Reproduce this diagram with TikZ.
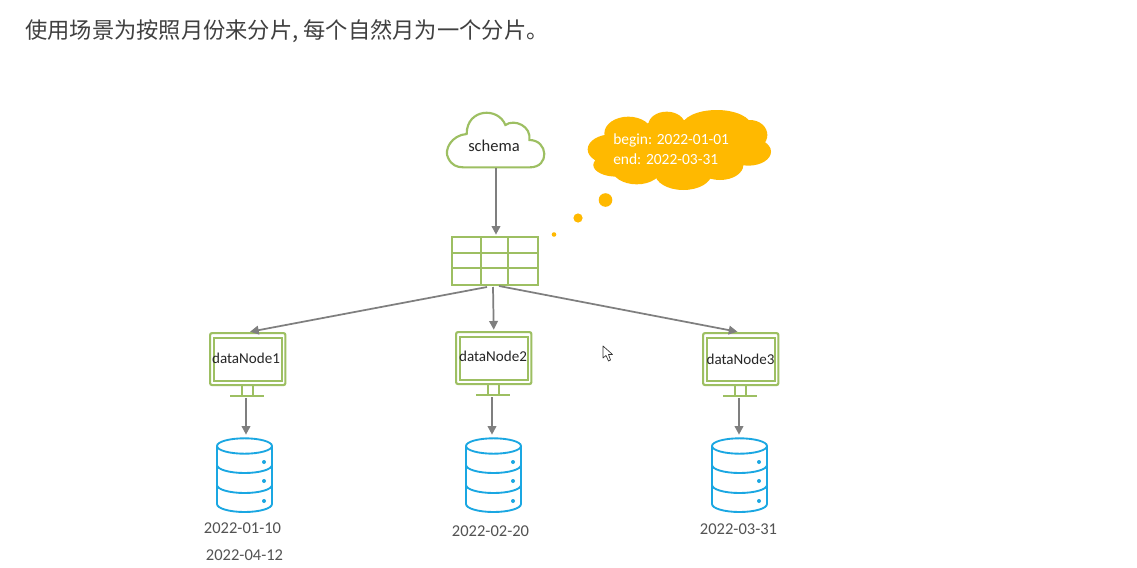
\documentclass[tikz,border=0pt]{standalone}
\usepackage{fontspec}
\setmainfont{Carlito}
\newfontfamily\cjk{Noto Sans CJK SC}
\usetikzlibrary{arrows.meta,calc}
\definecolor{lineg}{HTML}{7F7F7F}
\definecolor{leaf}{HTML}{9DBF62}
\definecolor{sky}{HTML}{1AA7E2}
\definecolor{sun}{HTML}{FFB900}
\definecolor{ink}{HTML}{404040}
\tikzset{
  conn/.style={draw=lineg,line width=1.3pt,-{Triangle[length=6.5pt,width=6.5pt]},shorten >=1pt},
  monout/.style={draw=leaf,line width=1.6pt,rounded corners=1.5pt,minimum width=56.5pt,minimum height=39pt,inner sep=0pt},
  moninner/.style={draw=leaf,line width=1.6pt,minimum width=51pt,minimum height=32pt,inner sep=0pt},
  monstand/.style={draw=leaf,line width=1.4pt},
  dbline/.style={draw=sky,line width=1.4pt},
  dblabel/.style={font=\fontsize{12.4pt}{14pt}\selectfont,text=ink!90},
  nodelabel/.style={font=\fontsize{11.3pt}{13pt}\selectfont,text=black!85},
}
% #1 name, #2 x, #3 y (top-left of outer frame)
\newcommand{\monitorat}[3]{%
  \node[monout,anchor=north west] (#1) at (#2,#3) {};
  \node[moninner] (#1in) at ($(#1.center)+(0,-0.2pt)$) {};
  \draw[monstand] (#2+33,#3+52) -- (#2+33,#3+64) (#2+44,#3+52) -- (#2+44,#3+64);
  \draw[monstand] (#2+21,#3+64) -- (#2+55,#3+64);
  \coordinate (#1base) at (#2+37,#3+66);
}
% #1 name, #2 left x, #3 top y
\newcommand{\dbat}[3]{%
  \draw[dbline] (#2+27.5,#3+8) ellipse[x radius=27.5,y radius=7.7];
  \draw[dbline] (#2,#3+8) -- (#2,#3+66) arc[start angle=180,end angle=0,x radius=27.5,y radius=8] -- (#2+55,#3+8);
  \draw[dbline] (#2,#3+27) arc[start angle=180,end angle=0,x radius=27.5,y radius=8];
  \draw[dbline] (#2,#3+47) arc[start angle=180,end angle=0,x radius=27.5,y radius=8];
  \fill[sky] (#2+47,#3+24) circle[radius=2] (#2+47,#3+43) circle[radius=2] (#2+47,#3+63) circle[radius=2];
  \coordinate (#1) at (#2+27.5,#3-2);
}
\begin{document}
\begin{tikzpicture}[x=0.75pt,y=-0.75pt]
\useasboundingbox[fill=white] (0,0) rectangle (1137,567);

\node[anchor=west,inner sep=0pt,text=ink,font=\cjk\fontsize{16.7pt}{18pt}\selectfont] (title) at (25,31) {使用场景为按照月份来分片, 每个自然月为一个分片。};

% clouds
\begin{scope}[shift={(420,90)},x=0.25pt,y=-0.25pt]
\draw[leaf,line width=1.6pt,fill=white]
  (130,232) -- (330,232)
  .. controls (390,232) and (385,150) .. (328,150)
  .. controls (335,110) and (285,85) .. (256,105)
  .. controls (235,50) and (140,55) .. (140,132)
  .. controls (95,135) and (70,180) .. (85,205)
  .. controls (95,225) and (110,232) .. (130,232) -- cycle;
\fill[sun]
  (575,178) ellipse[x radius=72,y radius=45]
  (625,130) ellipse[x radius=72,y radius=50]
  (740,105) ellipse[x radius=55,y radius=40]
  (890,110) ellipse[x radius=105,y radius=50]
  (990,135) ellipse[x radius=52,y radius=45]
  (985,185) ellipse[x radius=68,y radius=42]
  (900,225) ellipse[x radius=70,y radius=45]
  (790,250) ellipse[x radius=85,y radius=50]
  (650,235) ellipse[x radius=75,y radius=48]
  (590,225) ellipse[x radius=70,y radius=35]
  (780,170) ellipse[x radius=200,y radius=80];
\end{scope}
\node[nodelabel,font=\fontsize{12.4pt}{14pt}\selectfont] (schema) at (494,146) {schema};
\coordinate (cloudout) at (496,168);

\fill[sun] (605.5,200) circle[radius=6.8] (578,218) circle[radius=4.6] (554,234.5) circle[radius=2.3];
\node[anchor=west,inner sep=0pt,text=white,font=\fontsize{11.6pt}{13pt}\selectfont] (bg) at (613,140) {begin: 2022-01-01};
\node[anchor=west,inner sep=0pt,text=white,font=\fontsize{11.6pt}{13pt}\selectfont] (en) at (613,159) {end: 2022-03-31};

% table
\node[draw=leaf,line width=1.6pt,minimum width=64.5pt,minimum height=36pt,inner sep=0pt,anchor=north west] (tab) at (451,236) {};
\draw[leaf,line width=1.4pt] (481,236) -- (481,284) (508,236) -- (508,284) (451,253) -- (538,253) (451,268) -- (538,268);
\coordinate (tabL) at (487,287);
\coordinate (tabM) at (493,287);
\coordinate (tabR) at (499,286);

% monitors
\monitorat{monA}{209}{332}
\monitorat{monB}{455}{331}
\monitorat{monC}{702}{332}
\node[nodelabel,inner sep=0pt] at (246,358) {dataNode1};
\node[nodelabel,inner sep=0pt] at (493,356) {dataNode2};
\node[nodelabel,inner sep=0pt] at (740.5,359) {dataNode3};

% databases
\dbat{dbA}{217}{438}
\dbat{dbB}{466}{438}
\dbat{dbC}{712}{438}
\node[dblabel] (dA) at (242.5,528.5) {2022-01-10};
\node[dblabel] (dB) at (244.5,555.5) {2022-04-12};
\node[dblabel] (dC) at (490.5,531.5) {2022-02-20};
\node[dblabel] (dD) at (738.5,529.5) {2022-03-31};

% connectors
\draw[conn] (cloudout) -- (tab.north -| cloudout);
\draw[conn] (tabL) -- ($(monA.north)+(1,0)$);
\draw[conn] (tabM) -- (monB.north);
\draw[conn] (tabR) -- ($(monC.north)+(-2,0)$);
\draw[conn] (monAbase) -- (monAbase |- dbA);
\draw[conn] (monBbase) -- (monBbase |- dbB);
\draw[conn] (monCbase) -- (monCbase |- dbC);

% mouse cursor
\draw[black!80,fill=white,line width=0.5pt,line join=round]
  (603,346) -- (603,358) -- (606,355.5) -- (608.5,361) -- (610.5,360) -- (608.5,354.5) -- (612.5,354.5) -- cycle;
\end{tikzpicture}
\end{document}
